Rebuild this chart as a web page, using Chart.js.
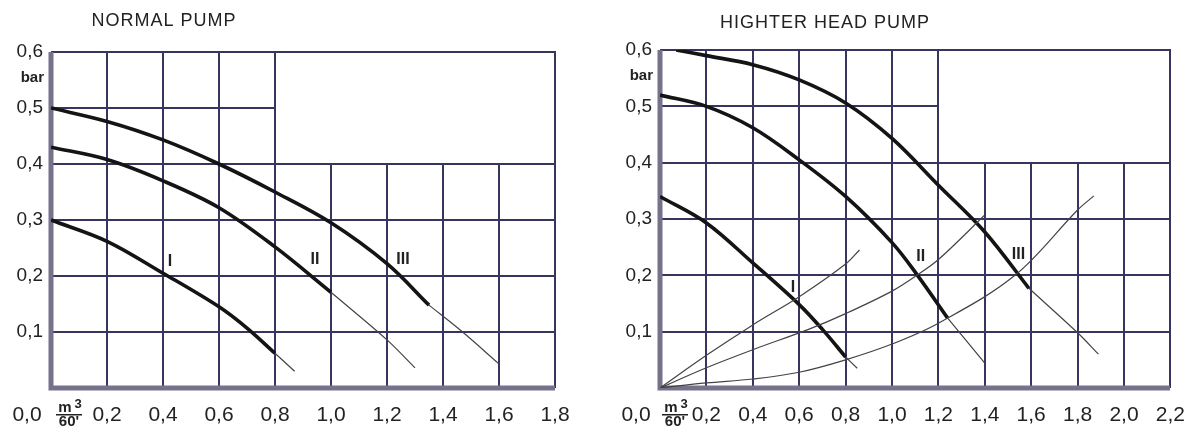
<!DOCTYPE html>
<html lang="en">
<head>
<meta charset="UTF-8">
<title>Pump curves</title>
<script src="https://cdn.jsdelivr.net/npm/chart.js"></script>
<style>
  body { margin: 0; background: #fff; }
  .row { display: flex; width: 1200px; height: 435px; }
  canvas { display: block; }
</style>
</head>
<body>
<div class="row">
  <canvas id="normalChart" width="600" height="435"></canvas>
  <canvas id="higherChart" width="600" height="435"></canvas>
</div>
<script>
// ---- NORMAL PUMP (flow m3/60', head bar) ----
const normalI_x     = [0, 0.2, 0.4, 0.6, 0.7, 0.8];
const normalI_y     = [0.30, 0.262, 0.205, 0.145, 0.107, 0.062];
const normalIt_x    = [0.8, 0.87];
const normalIt_y    = [0.062, 0.03];
const normalII_x    = [0, 0.2, 0.4, 0.6, 0.8, 1.0];
const normalII_y    = [0.43, 0.408, 0.37, 0.322, 0.252, 0.171];
const normalIIt_x   = [1.0, 1.2, 1.30];
const normalIIt_y   = [0.171, 0.086, 0.036];
const normalIII_x   = [0, 0.2, 0.4, 0.6, 0.8, 1.0, 1.2, 1.35];
const normalIII_y   = [0.50, 0.476, 0.443, 0.40, 0.35, 0.295, 0.222, 0.148];
const normalIIIt_x  = [1.35, 1.47, 1.6];
const normalIIIt_y  = [0.148, 0.10, 0.043];
const normalLabels  = [['I', 0.425, 0.225], ['II', 0.943, 0.229], ['III', 1.257, 0.23]];

// ---- HIGHTER HEAD PUMP ----
const higherI_x     = [0, 0.2, 0.4, 0.6, 0.7, 0.8];
const higherI_y     = [0.34, 0.293, 0.222, 0.148, 0.104, 0.055];
const higherIt_x    = [0.8, 0.85];
const higherIt_y    = [0.055, 0.035];
const higherII_x    = [0, 0.2, 0.4, 0.6, 0.8, 1.0, 1.11, 1.24];
const higherII_y    = [0.52, 0.50, 0.462, 0.405, 0.34, 0.258, 0.20, 0.124];
const higherIIt_x   = [1.24, 1.40];
const higherIIt_y   = [0.124, 0.044];
const higherIII_x   = [0.07, 0.2, 0.4, 0.6, 0.8, 1.0, 1.2, 1.4, 1.59];
const higherIII_y   = [0.60, 0.59, 0.574, 0.547, 0.506, 0.443, 0.36, 0.277, 0.177];
const higherIIIt_x  = [1.59, 1.8, 1.89];
const higherIIIt_y  = [0.177, 0.098, 0.06];
// system curves from origin
const sysA_x = [0, 0.2, 0.4, 0.6, 0.8, 0.86];
const sysA_y = [0, 0.058, 0.112, 0.162, 0.22, 0.245];
const sysB_x = [0, 0.2, 0.4, 0.64, 0.8, 1.0, 1.107, 1.2, 1.4];
const sysB_y = [0, 0.036, 0.068, 0.104, 0.132, 0.172, 0.20, 0.228, 0.307];
const sysC_x = [0, 0.2, 0.4, 0.6, 0.8, 1.0, 1.2, 1.53, 1.8, 1.87];
const sysC_y = [0, 0.009, 0.016, 0.028, 0.05, 0.078, 0.115, 0.2, 0.316, 0.341];
const higherLabels = [['I', 0.573, 0.179], ['II', 1.124, 0.233], ['III', 1.545, 0.236]];

const FONT = '"Liberation Sans", Arial, sans-serif';
const gridColor = '#35355f';
const axisColor = '#77728c';

function pts(xs, ys) {
  return xs.map((x, i) => ({ x: x, y: ys[i] }));
}
function thick(xs, ys) {
  return { data: pts(xs, ys), borderColor: '#141414', borderWidth: 3.6 };
}
function thin(xs, ys) {
  return { data: pts(xs, ys), borderColor: '#444', borderWidth: 1.2 };
}
function fmt(v) {
  return v.toFixed(1).replace('.', ',');
}

// partial grid, borders, titles and extra texts
function decor(o) {
  return {
    id: 'decor',
    beforeDatasetsDraw(chart) {
      const ctx = chart.ctx, xs = chart.scales.x, ys = chart.scales.y;
      const px = v => Math.round(xs.getPixelForValue(v));
      const py = v => Math.round(ys.getPixelForValue(v));
      ctx.save();
      ctx.strokeStyle = gridColor;
      ctx.lineWidth = 2;
      ctx.beginPath();
      xs.ticks.forEach(t => {
        if (t.value <= 0.01 || t.value >= o.xMax - 0.01) return;
        const top = t.value <= o.xFull + 0.01 ? 0.6 : 0.4;
        ctx.moveTo(px(t.value), py(0));
        ctx.lineTo(px(t.value), py(top));
      });
      ys.ticks.forEach(t => {
        if (t.value <= 0.01 || t.value >= 0.59) return;
        const right = t.value > 0.45 ? o.xFull : o.xMax;
        ctx.moveTo(px(0), py(t.value));
        ctx.lineTo(px(right), py(t.value));
      });
      // top + right border
      ctx.moveTo(px(0), py(0.6));
      ctx.lineTo(px(o.xMax), py(0.6));
      ctx.lineTo(px(o.xMax), py(0));
      ctx.stroke();
      // thick left + bottom axis
      ctx.strokeStyle = axisColor;
      ctx.lineWidth = 5;
      ctx.beginPath();
      ctx.moveTo(px(0), py(0.6));
      ctx.lineTo(px(0), py(0));
      ctx.lineTo(px(o.xMax), py(0));
      ctx.stroke();
      ctx.restore();
    },
    afterDraw(chart) {
      const ctx = chart.ctx, xs = chart.scales.x, ys = chart.scales.y;
      const px = v => xs.getPixelForValue(v);
      const py = v => ys.getPixelForValue(v);
      ctx.save();
      ctx.fillStyle = '#222';
      ctx.textAlign = 'center';
      ctx.textBaseline = 'middle';
      // title
      ctx.font = '18px ' + FONT;
      ctx.letterSpacing = '1px';
      ctx.fillText(o.title, o.titleX, o.titleY);
      ctx.letterSpacing = '0px';
      // unit "bar"
      ctx.font = 'bold 15px ' + FONT;
      ctx.textAlign = 'right';
      ctx.fillText('bar', px(0) - 7, py(0.6) + 26);
      // 0,0 shifted left of the axis
      ctx.textAlign = 'center';
      ctx.font = '21px ' + FONT;
      ctx.fillText('0,0', px(0) - 24, xs.top + 15 + 12.6);
      // m3/60' fraction
      const fx = px(0) + o.fracDx;
      ctx.font = 'bold 15px ' + FONT;
      ctx.fillText('m', fx - 4, xs.top + 20);
      ctx.font = 'bold 13px ' + FONT;
      ctx.fillText('3', fx + 9, xs.top + 16);
      ctx.font = 'bold 15px ' + FONT;
      ctx.fillText("60'", fx, xs.top + 34);
      ctx.fillRect(fx - 13, xs.top + 26, 26, 1.5);
      // curve labels
      ctx.font = 'bold 16px ' + FONT;
      o.labels.forEach(l => ctx.fillText(l[0], px(l[1]), py(l[2])));
      ctx.restore();
    }
  };
}

function makeChart(id, datasets, o) {
  new Chart(document.getElementById(id), {
    type: 'scatter',
    data: { datasets: datasets },
    options: {
      responsive: false,
      animation: false,
      events: [],
      showLine: true,
      elements: {
        point: { radius: 0 },
        line: { tension: 0.35, fill: false }
      },
      layout: { padding: { top: o.top, right: o.right, left: 0, bottom: 0 } },
      plugins: { legend: { display: false }, tooltip: { enabled: false } },
      scales: {
        x: {
          type: 'linear', min: 0, max: o.xMax,
          grid: { display: false, drawTicks: false },
          border: { display: false },
          afterFit: s => { s.height = 47; },
          ticks: {
            stepSize: 0.2, autoSkip: false, maxRotation: 0, padding: 15,
            color: '#222', font: { family: FONT, size: 21 },
            callback: v => (v < 0.01 ? '' : fmt(v))
          }
        },
        y: {
          type: 'linear', min: 0, max: 0.6,
          grid: { display: false, drawTicks: false },
          border: { display: false },
          afterFit: s => { s.width = o.left; },
          ticks: {
            stepSize: 0.1, padding: 8,
            color: '#222', font: { family: FONT, size: 19 },
            callback: v => (v < 0.01 ? '' : fmt(v))
          }
        }
      }
    },
    plugins: [decor(o)]
  });
}

makeChart('normalChart', [
  thick(normalI_x, normalI_y), thin(normalIt_x, normalIt_y),
  thick(normalII_x, normalII_y), thin(normalIIt_x, normalIIt_y),
  thick(normalIII_x, normalIII_y), thin(normalIIIt_x, normalIIIt_y)
], { title: 'NORMAL PUMP', titleX: 164, titleY: 21, xMax: 1.8, xFull: 0.8,
     left: 51, top: 52, right: 45, fracDx: 18, labels: normalLabels });

makeChart('higherChart', [
  thin(sysA_x, sysA_y), thin(sysB_x, sysB_y), thin(sysC_x, sysC_y),
  thick(higherI_x, higherI_y), thin(higherIt_x, higherIt_y),
  thick(higherII_x, higherII_y), thin(higherIIt_x, higherIIt_y),
  thick(higherIII_x, higherIII_y), thin(higherIIIt_x, higherIIIt_y)
], { title: 'HIGHTER HEAD PUMP', titleX: 225, titleY: 23, xMax: 2.2, xFull: 1.2,
     left: 60, top: 50, right: 17, fracDx: 15, labels: higherLabels });
</script>
</body>
</html>
